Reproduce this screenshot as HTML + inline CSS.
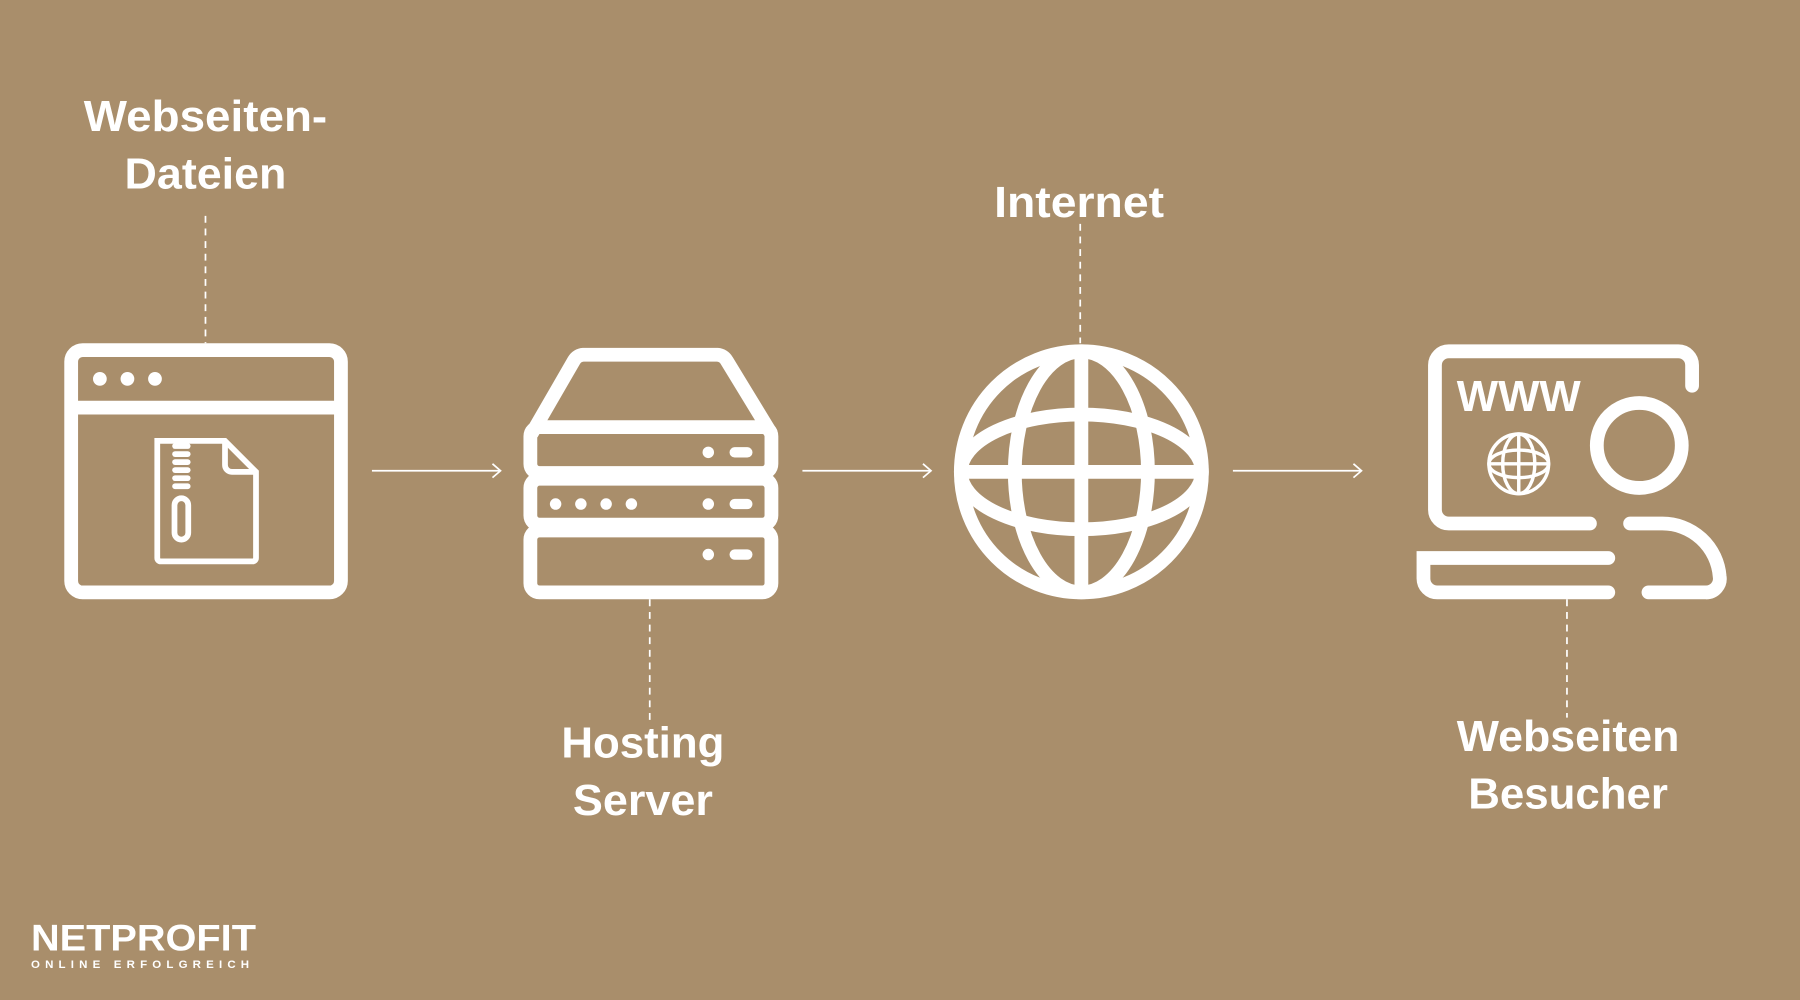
<!DOCTYPE html>
<html><head><meta charset="utf-8"><style>
html,body{margin:0;padding:0;background:#a98e6b;}
svg{display:block}
text{font-family:"Liberation Sans",sans-serif;font-weight:bold;fill:#fff}
</style></head><body>
<svg width="1800" height="1000" viewBox="0 0 1568 871" preserveAspectRatio="none" xmlns="http://www.w3.org/2000/svg">
<rect width="1568" height="871" fill="#a98e6b"/>
<g fill="none" stroke="#fff">
 <!-- dashed connectors -->
 <g stroke-width="1.5" stroke-dasharray="6,5">
  <line x1="179" y1="188" x2="179" y2="299"/>
  <line x1="566" y1="522" x2="566" y2="630"/>
  <line x1="941" y1="195" x2="941" y2="299"/>
  <line x1="1365" y1="522" x2="1365" y2="625"/>
 </g>
 <!-- arrows -->
 <g stroke-width="1.5">
  <line x1="324" y1="410" x2="436" y2="410"/><polyline points="429,404 436,410 429,416"/>
  <line x1="699" y1="410" x2="811" y2="410"/><polyline points="804,404 811,410 804,416"/>
  <line x1="1074" y1="410" x2="1186" y2="410"/><polyline points="1179,404 1186,410 1179,416"/>
 </g>
 <!-- window icon -->
 <g stroke-width="12">
  <rect x="62" y="305" width="235" height="211" rx="10"/>
  <line x1="62" y1="355" x2="297" y2="355"/>
 </g>
 <g stroke-width="5">
  <path d="M137,384 H196 L223,411 V486 a3,3 0 0 1 -3,3 H140 a3,3 0 0 1 -3,-3 Z"/>
  <path d="M196,384 V405 a6,6 0 0 0 6,6 H223"/>
  <rect x="152" y="434" width="12" height="36" rx="6"/>
 </g>
 <!-- server -->
 <g stroke-width="12" stroke-linejoin="round">
  <path d="M463,378 L500,314 a10,10 0 0 1 8,-5 H625 a10,10 0 0 1 8,5 L672,378"/>
  <rect x="462" y="372" width="210" height="40" rx="8"/>
  <rect x="462" y="417" width="210" height="40" rx="8"/>
  <rect x="462" y="462" width="210" height="54" rx="8"/>
 </g>
 <g stroke-width="9" stroke-linecap="round">
  <line x1="640" y1="394" x2="651" y2="394"/>
  <line x1="640" y1="439" x2="651" y2="439"/>
  <line x1="640" y1="483" x2="651" y2="483"/>
 </g>
 <!-- globe -->
 <g stroke-width="12">
  <circle cx="942" cy="411" r="105"/>
  <ellipse cx="942" cy="411" rx="58" ry="105"/>
  <ellipse cx="942" cy="411" rx="105" ry="50"/>
  <line x1="942" y1="306" x2="942" y2="516"/>
  <line x1="837" y1="411" x2="1047" y2="411"/>
 </g>
 <!-- visitor -->
 <g stroke-width="12" stroke-linecap="round">
  <path d="M1385,456 H1262 a12,12 0 0 1 -12,-12 V318 a12,12 0 0 1 12,-12 H1462 a12,12 0 0 1 12,12 V336"/>
  <circle cx="1428" cy="388" r="37"/>
  <path d="M1420,456 H1448 a50,50 0 0 1 50,46 a12,12 0 0 1 -12,14 H1436"/>
  <path d="M1401,486 H1240 V504 a12,12 0 0 0 12,12 H1401"/>
 </g>
 <g stroke-width="3">
  <circle cx="1323" cy="404" r="26"/>
  <ellipse cx="1323" cy="404" rx="14" ry="26"/>
  <ellipse cx="1323" cy="404" rx="26" ry="12"/>
  <line x1="1323" y1="378" x2="1323" y2="430"/>
  <line x1="1297" y1="404" x2="1349" y2="404"/>
 </g>
</g>
<g fill="#fff">
 <circle cx="87" cy="330" r="6"/><circle cx="111" cy="330" r="6"/><circle cx="135" cy="330" r="6"/>
 <g><rect x="150" y="386" width="16" height="5" rx="2.5"/><rect x="150" y="393" width="16" height="5" rx="2.5"/><rect x="150" y="400" width="16" height="5" rx="2.5"/><rect x="150" y="407" width="16" height="5" rx="2.5"/><rect x="150" y="414" width="16" height="5" rx="2.5"/><rect x="150" y="421" width="16" height="5" rx="2.5"/></g>
 <circle cx="617" cy="394" r="5"/><circle cx="617" cy="439" r="5"/><circle cx="617" cy="483" r="5"/>
 <circle cx="484" cy="439" r="5"/><circle cx="506" cy="439" r="5"/><circle cx="528" cy="439" r="5"/><circle cx="550" cy="439" r="5"/>
</g>
<text x="1323" y="358" font-size="38" text-anchor="middle" textLength="108" lengthAdjust="spacingAndGlyphs">WWW</text>
<g font-size="38" text-anchor="middle">
 <text x="179" y="114" textLength="212" lengthAdjust="spacingAndGlyphs">Webseiten-</text>
 <text x="179" y="164" textLength="141" lengthAdjust="spacingAndGlyphs">Dateien</text>
 <text x="940" y="189" textLength="148" lengthAdjust="spacingAndGlyphs">Internet</text>
 <text x="560" y="660" textLength="142" lengthAdjust="spacingAndGlyphs">Hosting</text>
 <text x="560" y="710" textLength="122" lengthAdjust="spacingAndGlyphs">Server</text>
 <text x="1366" y="654" textLength="194" lengthAdjust="spacingAndGlyphs">Webseiten</text>
 <text x="1366" y="704" textLength="174" lengthAdjust="spacingAndGlyphs">Besucher</text>
</g>
<text x="27" y="828" font-size="32" textLength="196" lengthAdjust="spacingAndGlyphs">NETPROFIT</text>
<text x="27" y="843" font-size="10" font-weight="normal" textLength="190" lengthAdjust="spacing">ONLINE ERFOLGREICH</text>
</svg>
</body></html>
